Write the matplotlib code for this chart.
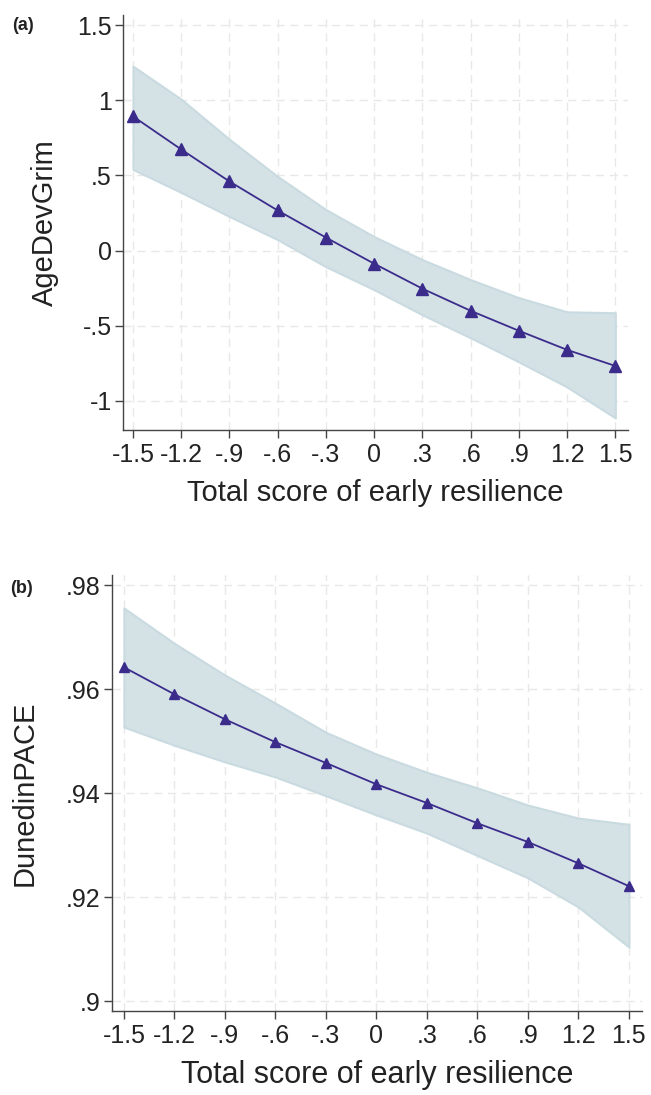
import numpy as np
import matplotlib
matplotlib.use("Agg")
import matplotlib.pyplot as plt

plt.rcParams['font.family'] = ['Liberation Sans', 'DejaVu Sans']

# x values (total score of early resilience)
x = [-1.5, -1.2, -0.9, -0.6, -0.3, 0.0, 0.3, 0.6, 0.9, 1.2, 1.5]
x_ticklabels = ['-1.5', '-1.2', '-.9', '-.6', '-.3', '0', '.3', '.6', '.9', '1.2', '1.5']

# panel (a): AgeDevGrim
grim_fit = [0.893, 0.673, 0.46, 0.267, 0.087, -0.087, -0.253, -0.40, -0.533, -0.66, -0.767]
grim_hi = [1.227, 1.007, 0.74, 0.493, 0.273, 0.093, -0.06, -0.193, -0.313, -0.407, -0.413]
grim_lo = [0.54, 0.387, 0.227, 0.073, -0.107, -0.26, -0.427, -0.58, -0.74, -0.907, -1.113]
grim_yticks = [-1, -0.5, 0, 0.5, 1, 1.5]
grim_yticklabels = ['-1', '-.5', '0', '.5', '1', '1.5']

# panel (b): DunedinPACE
pace_fit = [0.9642, 0.959, 0.9542, 0.9498, 0.9458, 0.9417, 0.9381, 0.9342, 0.9306, 0.9265, 0.9221]
pace_hi = [0.9756, 0.9688, 0.9627, 0.9573, 0.9517, 0.9475, 0.944, 0.941, 0.9377, 0.9352, 0.934]
pace_lo = [0.9527, 0.9492, 0.946, 0.9431, 0.9395, 0.9358, 0.9323, 0.928, 0.9237, 0.9181, 0.9104]
pace_yticks = [0.90, 0.92, 0.94, 0.96, 0.98]
pace_yticklabels = ['.9', '.92', '.94', '.96', '.98']

line_col = '#3b2c8c'
band_col = '#d4e2e6'
band_edge = '#c9dbe0'
spine_col = '#444444'
grid_col = '#e8e8e8'
text_col = '#222222'

fig = plt.figure(figsize=(6.51, 10.95), dpi=100)
ax_a = fig.add_axes([0.189, 0.6073, 0.776, 0.379])
ax_b = fig.add_axes([0.172, 0.0767, 0.814, 0.398])


def style(ax, yticks, yticklabels, ylabel, xlim, ylim, xlab_size, ylab_x):
    ax.set_xlim(*xlim)
    ax.set_ylim(*ylim)
    ax.set_xticks(x)
    ax.set_xticklabels(x_ticklabels, fontsize=18, color=text_col)
    ax.set_yticks(yticks)
    ax.set_yticklabels(yticklabels, fontsize=18, color=text_col)
    ax.grid(True, color=grid_col, linestyle=(0, (6, 4)), linewidth=1.0)
    ax.set_axisbelow(True)
    for s in ['top', 'right']:
        ax.spines[s].set_visible(False)
    for s in ['left', 'bottom']:
        ax.spines[s].set_color(spine_col)
        ax.spines[s].set_linewidth(1.0)
    ax.tick_params(direction='out', length=6, width=1, color=spine_col)
    ax.tick_params(axis='x', pad=3)
    ax.tick_params(axis='y', pad=2)
    ax.set_xlabel('Total score of early resilience', fontsize=xlab_size, color=text_col, labelpad=9)
    ax.set_ylabel(ylabel, fontsize=21, color=text_col)
    ax.yaxis.set_label_coords(ylab_x, 0.5)


ax_a.fill_between(x, grim_lo, grim_hi, facecolor=band_col, edgecolor=band_edge, linewidth=1.5, zorder=2)
ax_a.plot(x, grim_fit, color=line_col, linewidth=1.3, marker='^', markersize=8.5, zorder=3)
style(ax_a, grim_yticks, grim_yticklabels, 'AgeDevGrim', (-1.562, 1.58), (-1.193, 1.567), 21, -0.127)

ax_b.fill_between(x, pace_lo, pace_hi, facecolor=band_col, edgecolor=band_edge, linewidth=1.5, zorder=2)
ax_b.plot(x, pace_fit, color=line_col, linewidth=1.3, marker='^', markersize=7, zorder=3)
style(ax_b, pace_yticks, pace_yticklabels, 'DunedinPACE', (-1.571, 1.577), (0.8981, 0.9819), 22, -0.138)

fig.text(0.018, 0.9726, '(a)', fontsize=13, fontweight='bold', color=text_col, va='baseline')
fig.text(0.016, 0.4584, '(b)', fontsize=13, fontweight='bold', color=text_col, va='baseline')

fig.savefig('out.png', dpi=100)
